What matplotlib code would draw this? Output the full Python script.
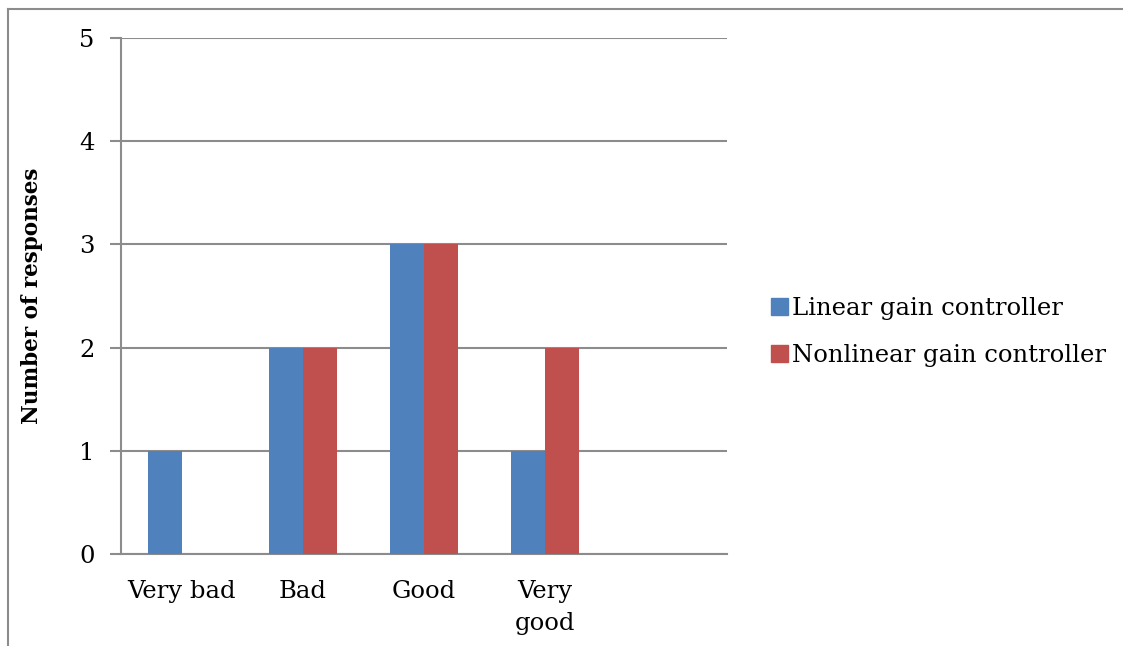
import matplotlib.pyplot as plt
from matplotlib.lines import Line2D
from matplotlib.patches import Patch
import numpy as np

# Survey responses per rating
categories = ["Very bad", "Bad", "Good", "Very\ngood"]
linear = [1, 2, 3, 1]
nonlinear = [0, 2, 3, 2]
series_names = ["Linear gain controller", "Nonlinear gain controller"]
yticks = [0, 1, 2, 3, 4, 5]

plt.rcParams['font.family'] = ['DejaVu Serif']

fig = plt.figure(figsize=(11.23, 6.46), dpi=100)
ax = fig.add_axes([121 / 1123, 1 - 554 / 646, (727 - 121) / 1123, (554 - 38) / 646])

x = np.arange(len(categories))
w = 0.28
ax.bar(x - w / 2, linear, w, color='#4F81BD', zorder=3)
ax.bar(x + w / 2, nonlinear, w, color='#C0504D', zorder=3)

ax.set_xlim(-0.5, 4.5)
ax.set_ylim(0, 5)
ax.set_yticks(yticks)
ax.set_xticks(x)
ax.set_xticklabels(categories, fontsize=17.5, va='top', linespacing=1.5)
ax.tick_params(axis='x', length=0, pad=19)
ax.tick_params(axis='y', length=8, width=1.5, color='#8c8c8c', labelsize=17.5, pad=11)
ax.grid(axis='y', color='#8c8c8c', linewidth=1.5, zorder=0)
for s in ['top', 'right']:
    ax.spines[s].set_visible(False)
for s in ['left', 'bottom']:
    ax.spines[s].set_color('#8c8c8c')
    ax.spines[s].set_linewidth(1.5)

ax.set_ylabel("Number of responses", fontsize=15.5, fontweight='bold')
ax.yaxis.set_label_coords((43 - 121) / 606, 0.5)

handles = [Patch(color='#4F81BD'), Patch(color='#C0504D')]
fig.legend(handles, series_names, loc='center left', bbox_to_anchor=(771 / 1123, 1 - 332 / 646),
           frameon=False, fontsize=17.5, handlelength=0.68, handleheight=0.68,
           handletextpad=0.2, labelspacing=1.0, borderpad=0, borderaxespad=0)

# outer frame lines (top and left)
fig.add_artist(Line2D([8 / 1123, 1], [1 - 9 / 646, 1 - 9 / 646], color='#8c8c8c', lw=1.5))
fig.add_artist(Line2D([8 / 1123, 8 / 1123], [0, 1 - 9 / 646], color='#8c8c8c', lw=1.5))

fig.savefig("out.png", dpi=100)
